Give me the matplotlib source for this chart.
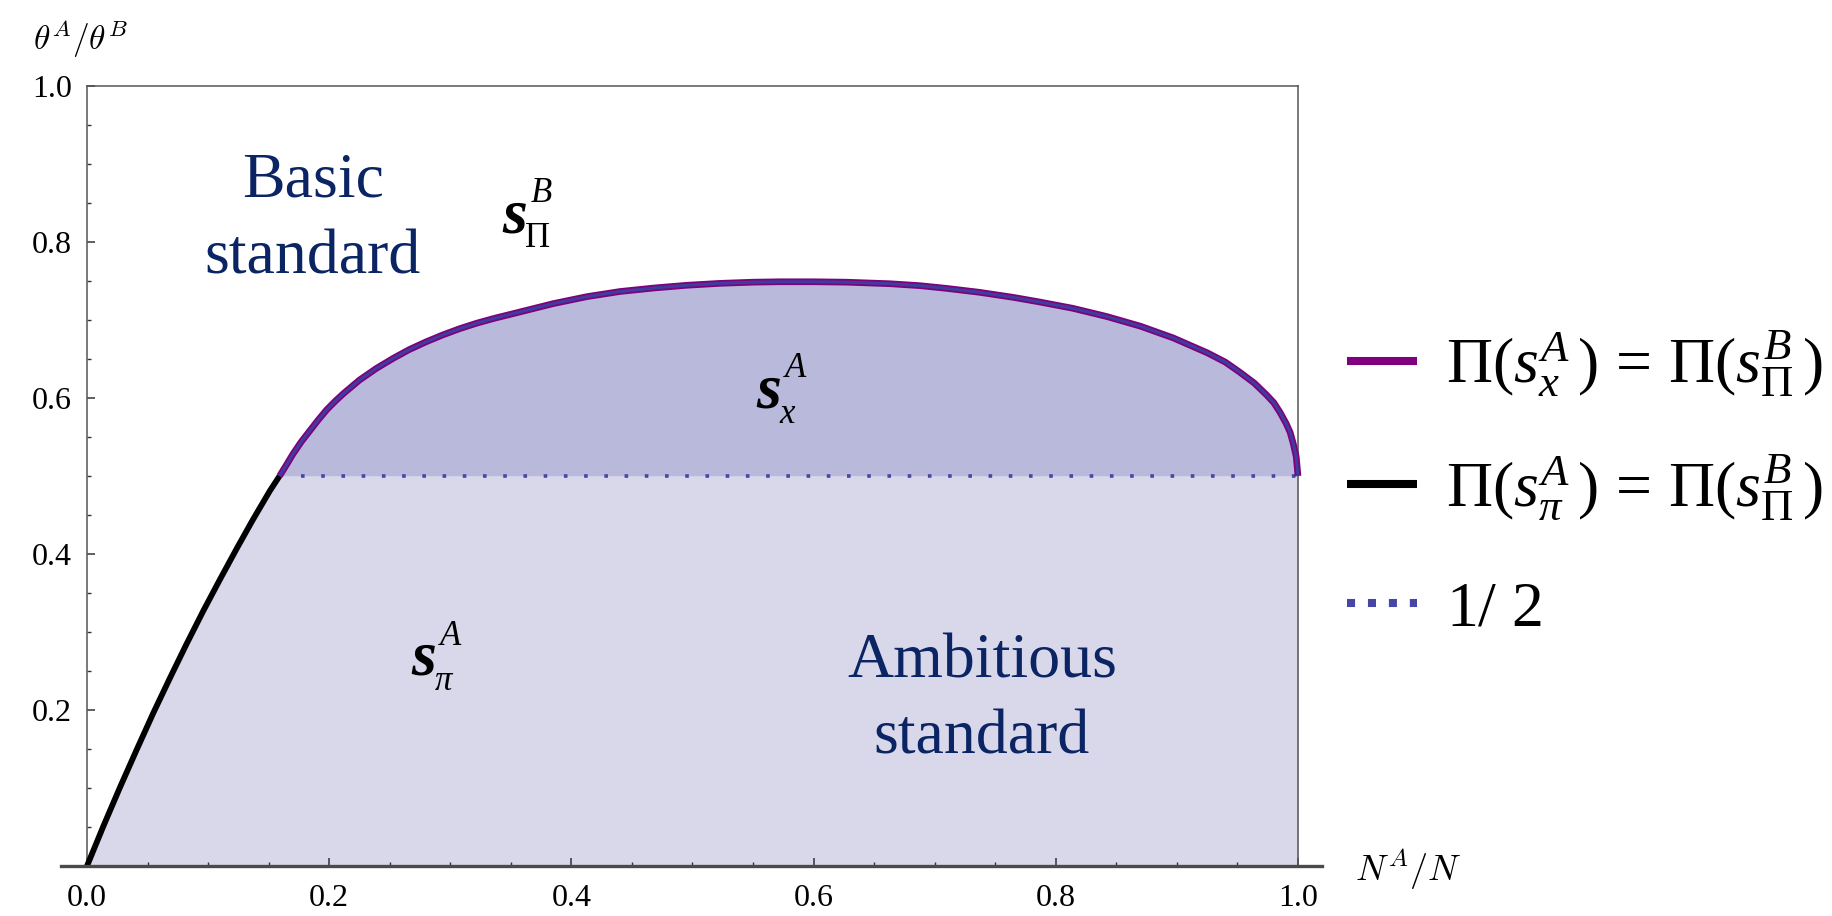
import matplotlib
matplotlib.use("Agg")
import matplotlib.pyplot as plt
from matplotlib.lines import Line2D
from matplotlib.ticker import FixedLocator

plt.rcParams['font.family'] = ['Liberation Serif', 'DejaVu Serif']
plt.rcParams['mathtext.fontset'] = 'custom'
plt.rcParams['mathtext.rm'] = 'Liberation Serif'
plt.rcParams['mathtext.it'] = 'Liberation Serif:italic'
plt.rcParams['mathtext.bf'] = 'Liberation Serif:bold:italic'

# ---------------- data ----------------
black_x = [0.0, 0.0135, 0.027, 0.041, 0.055, 0.0685, 0.082, 0.096, 0.110,
           0.124, 0.137, 0.151, 0.159]
black_y = [0.0, 0.051, 0.100, 0.149, 0.197, 0.241, 0.284, 0.327, 0.368,
           0.408, 0.444, 0.481, 0.5]

purple_x = [0.159, 0.165, 0.170, 0.177, 0.184, 0.191, 0.198, 0.205, 0.212,
            0.225, 0.239, 0.253, 0.266, 0.280, 0.294, 0.308, 0.322, 0.336,
            0.358, 0.385, 0.413, 0.440, 0.468, 0.495, 0.523, 0.550, 0.572,
            0.600, 0.627, 0.663, 0.688, 0.710, 0.737, 0.765, 0.787, 0.814,
            0.842, 0.870, 0.897, 0.925, 0.940, 0.952, 0.964, 0.974, 0.980,
            0.985, 0.990, 0.9935, 0.996, 0.9985, 1.0]
purple_y = [0.5, 0.515, 0.528, 0.544, 0.558, 0.572, 0.585, 0.596, 0.606,
            0.623, 0.638, 0.651, 0.662, 0.672, 0.681, 0.689, 0.696, 0.702,
            0.7105, 0.721, 0.730, 0.7365, 0.741, 0.7445, 0.747, 0.7485, 0.749,
            0.749, 0.7485, 0.7465, 0.744, 0.7405, 0.7355, 0.729, 0.723, 0.715,
            0.7045, 0.692, 0.677, 0.658, 0.646, 0.633, 0.619, 0.604, 0.594,
            0.582, 0.568, 0.556, 0.542, 0.525, 0.5]

half_level = 0.5
x_range = [0.0, 1.0]

x_ticks = [0.0, 0.2, 0.4, 0.6, 0.8, 1.0]
x_ticklabels = ['0.0', '0.2', '0.4', '0.6', '0.8', '1.0']
y_ticks = [0.2, 0.4, 0.6, 0.8, 1.0]
y_ticklabels = ['0.2', '0.4', '0.6', '0.8', '1.0']

legend_labels = [r'$\Pi(s_{x}^{A}\,)\,=\,\Pi(s_{\Pi}^{B}\,)$',
                 r'$\Pi(s_{\pi}^{A}\,)\,=\,\Pi(s_{\Pi}^{B}\,)$',
                 r'$1/\ 2$']

# ---------------- figure ----------------
W, H = 1832, 916
fig = plt.figure(figsize=(W / 100, H / 100), dpi=100)
x0px, x1px = 87, 1298
y0px, y1px = 866, 86
xmin, xmax = -0.0215, 1.0198
sx = (x1px - x0px)
left = (x0px + xmin * sx) / W
width = (xmax - xmin) * sx / W
ax = fig.add_axes([left, (H - y0px) / H, width, (y0px - y1px) / H])
ax.set_xlim(xmin, xmax)
ax.set_ylim(0, 1)

light = '#d8d8ea'
dark = '#b9b9db'
purple = '#800080'
core = '#3f3d9c'
dotc = '#4646a6'

# fills
fill_x = black_x + [x_range[1]]
fill_y = black_y + [half_level]
ax.fill_between(fill_x, 0, fill_y, color=light, lw=0, zorder=1)
ax.fill_between(purple_x, half_level, purple_y, color=dark, lw=0, zorder=1)

# dotted 1/2 line
ax.plot([purple_x[0] + 0.018, x_range[1]], [half_level, half_level], color=dotc,
        lw=2.6, linestyle=(0, (1, 4.6)), zorder=2)

# curves
ax.plot(purple_x, purple_y, color=purple, lw=4.8, zorder=3,
        solid_capstyle='butt', solid_joinstyle='round')
ax.plot(purple_x, purple_y, color=core, lw=2.2, zorder=4,
        solid_capstyle='butt', solid_joinstyle='round')
ax.plot(black_x, black_y, color='black', lw=4.2, zorder=4,
        solid_capstyle='butt', solid_joinstyle='round')

# spines
sc = '#555555'
for s in ['left', 'right', 'top']:
    ax.spines[s].set_color(sc)
    ax.spines[s].set_linewidth(1.1)
ax.spines['left'].set_position(('data', 0))
ax.spines['right'].set_position(('data', 1))
ax.spines['left'].set_bounds(0, 1)
ax.spines['right'].set_bounds(0, 1)
ax.spines['top'].set_bounds(0, 1)
ax.spines['bottom'].set_color('#4a4a4a')
ax.spines['bottom'].set_linewidth(2.4)
ax.spines['bottom'].set_zorder(5)

ax.xaxis.set_major_locator(FixedLocator(x_ticks))
ax.set_xticklabels(x_ticklabels)
ax.xaxis.set_minor_locator(FixedLocator([i * 0.05 for i in range(21) if i % 4 != 0]))
ax.yaxis.set_major_locator(FixedLocator(y_ticks))
ax.set_yticklabels(y_ticklabels)
ax.yaxis.set_minor_locator(FixedLocator([i * 0.05 for i in range(1, 20) if i % 4 != 0]))
ax.tick_params(axis='both', which='both', direction='in', colors='#333333',
               labelcolor='black', labelsize=23, top=False, right=False)
ax.tick_params(axis='both', which='major', length=6, width=1.1)
ax.tick_params(axis='both', which='minor', length=3, width=1.0)
ax.tick_params(axis='x', which='major', pad=13)
ax.tick_params(axis='y', which='major', pad=11)

# axis labels
fig.text(33 / W, 1 - 50 / H, r'$\theta^{A}/\theta^{B}$', fontsize=24,
         math_fontfamily='cm', ha='left', va='baseline')
fig.text(1355 / W, 1 - 881 / H, r'$N^{A}/N$', fontsize=26,
         math_fontfamily='cm', ha='left', va='baseline')

# region texts
navy = '#0b2463'
ax.text(0.1866, 0.8577, 'Basic', fontsize=46, color=navy, ha='center', va='baseline')
ax.text(0.1866, 0.760, 'standard', fontsize=46, color=navy, ha='center', va='baseline')
ax.text(0.739, 0.2417, 'Ambitious', fontsize=46, color=navy, ha='center', va='baseline')
ax.text(0.739, 0.1442, 'standard', fontsize=46, color=navy, ha='center', va='baseline')


def strategy_label(x, y, sup, sub):
    ax.text(x, y, 's', fontsize=46, fontweight='bold', fontstyle='italic',
            ha='left', va='baseline', zorder=6)
    ax.annotate(sup, xy=(x, y), xytext=(20.5, 21.5), textcoords='offset points',
                fontsize=25, fontstyle='italic', ha='left', va='baseline', zorder=6)
    ax.annotate(sub, xy=(x, y), xytext=(16.5, -11), textcoords='offset points',
                fontsize=25, fontstyle='italic' if sub != 'Π' else 'normal',
                ha='left', va='baseline', zorder=6)


strategy_label(0.3427, 0.8128, 'B', 'Π')
strategy_label(0.553, 0.588, 'A', 'x')
strategy_label(0.268, 0.2455, 'A', 'π')

# legend: one entry per row so the rows are evenly spaced
handles = [Line2D([], [], color=purple, lw=5.8, solid_capstyle='butt'),
           Line2D([], [], color='black', lw=5.8, solid_capstyle='butt'),
           Line2D([], [], color=dotc, lw=5.8, linestyle=(0, (1, 1.6)))]
row_y = [364, 488, 610]
for h, lab, ry in zip(handles, legend_labels, row_y):
    fig.legend([h], [lab], loc='center left',
               bbox_to_anchor=(1347 / W, 1 - ry / H),
               bbox_transform=fig.transFigure, frameon=False,
               fontsize=46, handlelength=1.1, handletextpad=0.45,
               borderpad=0, borderaxespad=0)

fig.savefig('out.png', dpi=100)
